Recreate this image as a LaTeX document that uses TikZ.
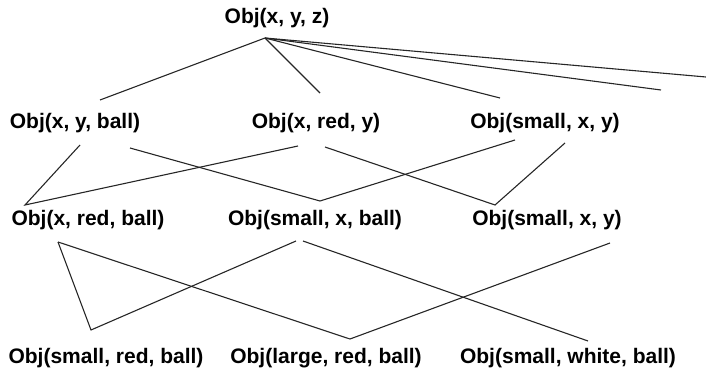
\documentclass[tikz,border=0pt]{standalone}
\usepackage{fontspec}
\setmainfont{Liberation Sans}
\usetikzlibrary{calc}
\begin{document}
\begin{tikzpicture}[x=1pt,y=-1pt,
  lbl/.style={font=\bfseries\fontsize{21}{25}\selectfont, inner sep=0pt},
  edge/.style={line width=1.1pt, draw=black!85}]
\useasboundingbox (0,0) rectangle (706,374);
% labels
\node[lbl] (top) at (277,18) {Obj(x, y, z)};
\node[lbl] (ra) at (75,123) {Obj(x, y, ball)};
\node[lbl] (rb) at (316,123) {Obj(x, red, y)};
\node[lbl] (rc) at (545,123) {Obj(small, x, y)};
\node[lbl] (sa) at (88,220) {Obj(x, red, ball)};
\node[lbl] (sb) at (315,220) {Obj(small, x, ball)};
\node[lbl] (sc) at (547,220) {Obj(small, x, y)};
\node[lbl] (ta) at (106,358) {Obj(small, red, ball)};
\node[lbl] (tb) at (326,358) {Obj(large, red, ball)};
\node[lbl] (tc) at (568,358) {Obj(small, white, ball)};
\coordinate (f1) at (661,90);
\coordinate (f2) at (706,77);
% top fan
\draw[edge] ($(top)+(-12,20)$) -- ($(ra)+(25,-23)$);
\draw[edge] ($(top)+(-12,20)$) -- ($(rb)+(4,-30)$);
\draw[edge] ($(top)+(-12,20)$) -- ($(rc)+(-45,-25)$);
\draw[edge] ($(top)+(-12,20)$) -- (f1);
\draw[edge] ($(top)+(-12,20)$) -- (f2);
% row 2 to row 3
\draw[edge] ($(ra)+(5,22)$) -- ($(sa)+(-63,-15)$) -- ($(rb)+(-18,23)$);
\draw[edge] ($(ra)+(55,25)$) -- ($(sb)+(5,-19)$) -- ($(rc)+(-30,17)$);
\draw[edge] ($(rb)+(9,24)$) -- ($(sc)+(-52,-15)$) -- ($(rc)+(20,20)$);
% row 3 to row 4
\draw[edge] ($(sa)+(-30,22)$) -- ($(ta)+(-15,-28)$) -- ($(sb)+(-19,21)$);
\draw[edge] ($(sa)+(-30,22)$) -- ($(tb)+(24,-19)$) -- ($(sc)+(63,23)$);
\draw[edge] ($(sb)+(-12,21)$) -- ($(tc)+(20,-17)$);
\end{tikzpicture}
\end{document}
